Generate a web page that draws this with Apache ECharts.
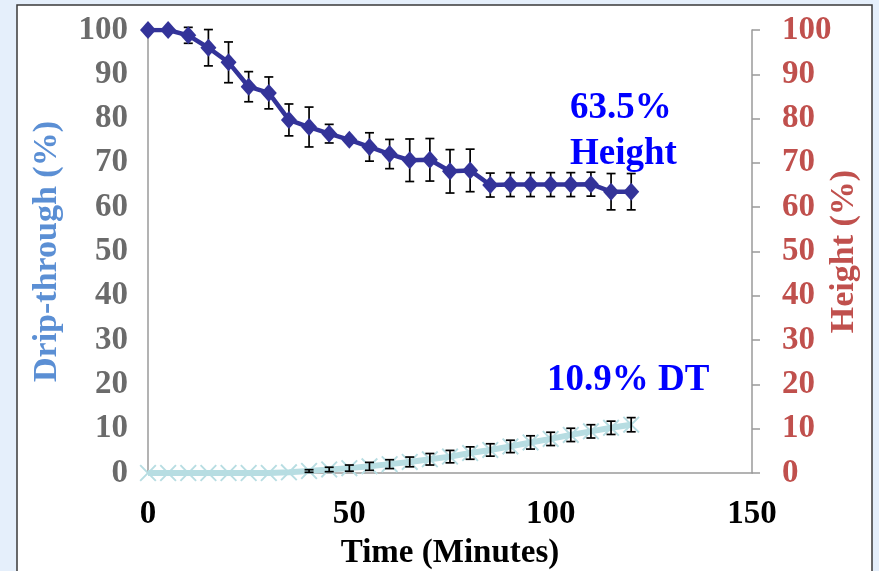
<!DOCTYPE html>
<html>
<head>
<meta charset="utf-8">
<script src="https://cdn.jsdelivr.net/npm/echarts@6/dist/echarts.min.js"></script>
<style>
  html, body { margin: 0; padding: 0; background: #e5effb; }
  #chart { width: 879px; height: 571px; }
</style>
</head>
<body>
<div id="chart"></div>
<script>
// Sampling times (minutes)
const times = [0, 5, 10, 15, 20, 25, 30, 35, 40, 45, 50, 55, 60, 65, 70, 75, 80, 85, 90, 95, 100, 105, 110, 115, 120];

// Foam height (% of initial) and its standard deviation
const heightValues = [100, 100, 98.8, 96, 92.7, 87.2, 85.8, 79.7, 78.1, 76.6, 75.2, 73.6, 72, 70.6, 70.7, 68.1, 68.3, 65, 65.1, 65.1, 65.1, 65.1, 65.2, 63.5, 63.5];
const heightErr = [0, 0, 1.8, 4.1, 4.6, 3.4, 3.6, 3.6, 4.5, 2.1, 0.6, 3.2, 3.3, 4.8, 4.8, 4.9, 4.8, 2.7, 2.7, 2.7, 2.7, 2.7, 2.7, 4.1, 4.1];

// Drip-through (% of liquid drained) and its standard deviation
const dtValues = [0, 0, 0, 0, 0, 0, 0, 0.15, 0.45, 0.8, 1.1, 1.5, 2.0, 2.5, 3.1, 3.7, 4.5, 5.2, 6.0, 6.9, 7.7, 8.6, 9.4, 10.2, 10.9];
const dtErr = [0, 0, 0, 0, 0, 0, 0, 0, 0.3, 0.5, 0.7, 0.9, 1.0, 1.1, 1.3, 1.4, 1.4, 1.4, 1.4, 1.5, 1.5, 1.5, 1.5, 1.5, 1.6];

const xTicks = [0, 50, 100, 150];
const yTicks = [0, 10, 20, 30, 40, 50, 60, 70, 80, 90, 100];

const FONT = '"Liberation Serif", "Times New Roman", serif';

function errData(vals, errs) {
  return times.map((t, i) => [t, vals[i] - errs[i], vals[i] + errs[i]]);
}

function errRender(cap) {
  return function (params, api) {
    const x = api.value(0);
    const lo = api.coord([x, api.value(1)]);
    const hi = api.coord([x, api.value(2)]);
    if (Math.abs(hi[1] - lo[1]) < 0.5) return null;
    const style = { stroke: '#000', lineWidth: 1.7 };
    return {
      type: 'group',
      children: [
        { type: 'line', shape: { x1: lo[0], y1: lo[1], x2: hi[0], y2: hi[1] }, style },
        { type: 'line', shape: { x1: lo[0] - cap, y1: lo[1], x2: lo[0] + cap, y2: lo[1] }, style },
        { type: 'line', shape: { x1: hi[0] - cap, y1: hi[1], x2: hi[0] + cap, y2: hi[1] }, style }
      ]
    };
  };
}

const chart = echarts.init(document.getElementById('chart'), null, { renderer: 'canvas' });

// thin "x" marker for the drip-through series
const crossPath = 'path://M0,0.8L0.8,0L5,4.2L9.2,0L10,0.8L5.8,5L10,9.2L9.2,10L5,5.8L0.8,10L0,9.2L4.2,5Z';

chart.setOption({
  backgroundColor: '#e5effb',
  animation: false,
  graphic: [
    {
      type: 'rect', z: -10, silent: true,
      shape: { x: 17, y: 5, width: 855, height: 600 },
      style: { fill: '#ffffff', stroke: '#3a3a3a', lineWidth: 1.5 }
    },
    {
      type: 'text', left: 570, top: 90, z: 10,
      style: { text: '63.5%', font: 'bold 37px ' + FONT, fill: '#0000ff' }
    },
    {
      type: 'text', left: 570, top: 136, z: 10,
      style: { text: 'Height', font: 'bold 37px ' + FONT, fill: '#0000ff' }
    },
    {
      type: 'text', left: 547, top: 362, z: 10,
      style: { text: '10.9% DT', font: 'bold 37px ' + FONT, fill: '#0000ff' }
    }
  ],
  grid: { left: 148, right: 127, top: 30, bottom: 98, containLabel: false, outerBoundsMode: 'none' },
  xAxis: {
    type: 'value', min: 0, max: 150, interval: 50,
    name: 'Time (Minutes)', nameLocation: 'middle', nameGap: 64, nameMoveOverlap: false,
    nameTextStyle: { fontFamily: FONT, fontWeight: 'bold', fontSize: 33, color: '#000' },
    axisLine: { lineStyle: { color: '#9a9a9a', width: 1.5 } },
    axisTick: { show: false },
    splitLine: { show: false },
    axisLabel: {
      margin: 25, fontFamily: FONT, fontWeight: 'bold', fontSize: 33, color: '#000',
      formatter: v => xTicks.includes(v) ? String(v) : ''
    }
  },
  yAxis: [
    {
      type: 'value', min: 0, max: 100, interval: 10, position: 'left',
      name: 'Drip-through (%)', nameLocation: 'middle', nameGap: 84, nameRotate: 90, nameMoveOverlap: false,
      nameTextStyle: { fontFamily: FONT, fontWeight: 'bold', fontSize: 34, color: '#5b8fd4' },
      axisLine: { show: true, lineStyle: { color: '#9a9a9a', width: 1.5 } },
      axisTick: { show: false },
      splitLine: { show: false },
      axisLabel: {
        margin: 20, fontFamily: FONT, fontWeight: 'bold', fontSize: 33, color: '#6b6b6b',
        formatter: v => yTicks.includes(v) ? String(v) : ''
      }
    },
    {
      type: 'value', min: 0, max: 100, interval: 10, position: 'right',
      name: 'Height (%)', nameLocation: 'middle', nameGap: 75, nameRotate: 90, nameMoveOverlap: false,
      nameTextStyle: { fontFamily: FONT, fontWeight: 'bold', fontSize: 34, color: '#c0504d' },
      axisLine: { show: true, lineStyle: { color: '#9a9a9a', width: 1.5 } },
      axisTick: { show: true, inside: false, length: 8, lineStyle: { color: '#9a9a9a', width: 1.5 } },
      splitLine: { show: false },
      axisLabel: {
        margin: 30, fontFamily: FONT, fontWeight: 'bold', fontSize: 33, color: '#c0504d',
        formatter: v => yTicks.includes(v) ? String(v) : ''
      }
    }
  ],
  series: [
    {
      name: 'Height error', type: 'custom', yAxisIndex: 1, z: 1,
      renderItem: errRender(4.5),
      encode: { x: 0, y: [1, 2] },
      data: errData(heightValues, heightErr)
    },
    {
      name: 'Height', type: 'line', yAxisIndex: 1, z: 2,
      data: times.map((t, i) => [t, heightValues[i]]),
      lineStyle: { color: '#333399', width: 4.5 },
      itemStyle: { color: '#333399' },
      symbol: 'diamond', symbolSize: [16, 18],
      showAllSymbol: true
    },
    {
      name: 'Drip-through', type: 'line', yAxisIndex: 0, z: 2,
      data: times.map((t, i) => [t, dtValues[i]]),
      lineStyle: { color: '#b7dde2', width: 6 },
      itemStyle: { color: '#b7dde2' },
      symbol: crossPath, symbolSize: 17,
      showAllSymbol: true
    },
    {
      name: 'Drip-through error', type: 'custom', yAxisIndex: 0, z: 3,
      renderItem: errRender(4.5),
      encode: { x: 0, y: [1, 2] },
      data: errData(dtValues, dtErr)
    }
  ]
});
</script>
</body>
</html>
